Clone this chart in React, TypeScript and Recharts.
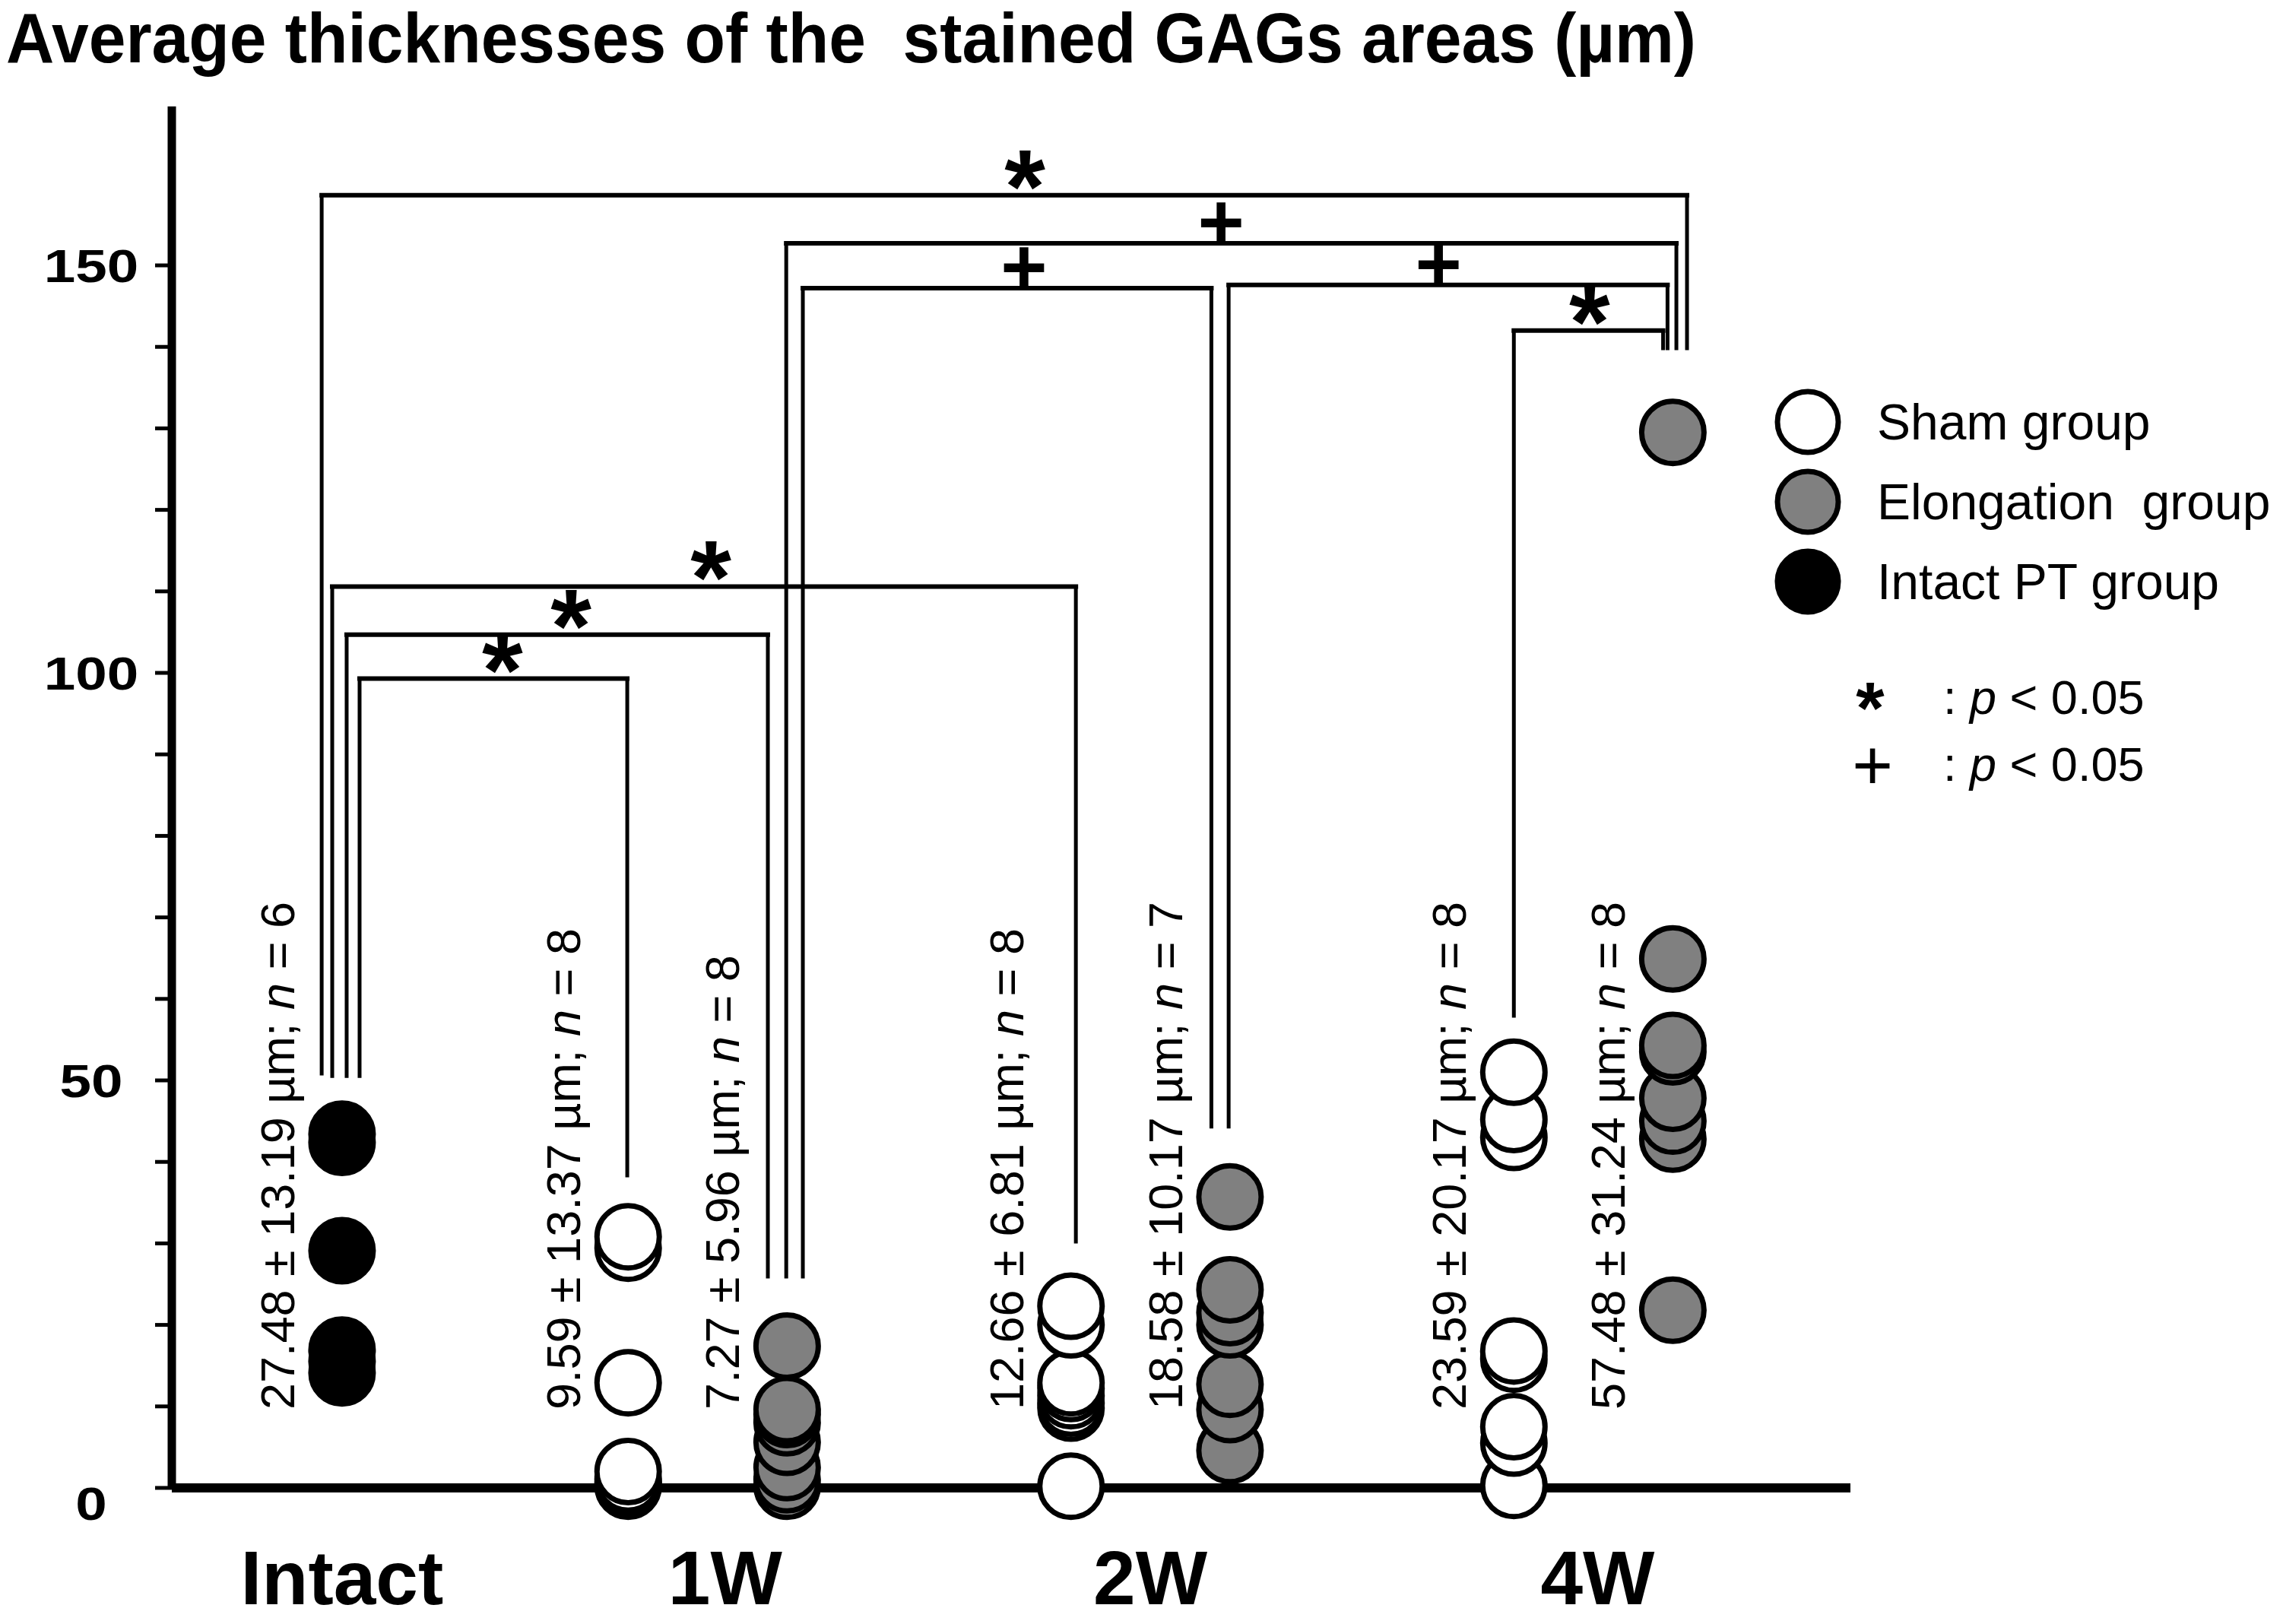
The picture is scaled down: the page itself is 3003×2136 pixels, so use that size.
import { ScatterChart, Scatter, XAxis, YAxis, ReferenceLine, ReferenceDot } from "recharts";

const FONT = '"Liberation Sans", Arial, Helvetica, sans-serif';

// x positions: Intact sits a bit closer to 1W than the weeks sit to each other
const groupNames = ["Intact", "1W", "2W", "4W"];
const groupTicks = [0.175, 1.04, 2.0, 3.01];
const intactX = 0.175;
const weekX = [1, 2, 3];
const shamShift = -0.179;
const elongShift = 0.18;

// individual thicknesses (µm)
const intactValues = [14.1, 15.5, 16.9, 29.1, 42.4, 43.4];
const sham1W = [0.2, 0.4, 0.7, 1.1, 2.0, 12.9, 29.4, 30.8];
const sham2W = [0.2, 9.8, 10.4, 11.3, 12.2, 12.9, 20.0, 22.3];
const sham4W = [0.3, 5.5, 7.5, 15.8, 16.8, 43.0, 45.2, 51.0];
const elong1W = [0.2, 1.0, 2.5, 5.6, 8.0, 9.0, 9.6, 17.4];
const elong2W = [4.6, 9.6, 12.7, 20.0, 21.5, 24.3, 35.7];
const elong4W = [21.8, 42.8, 45.0, 47.8, 53.5, 54.3, 64.9, 129.5];

// mean ± SD text written beside each column
const statMeans = ["27.48", "9.59", "7.27", "12.66", "18.58", "23.59", "57.48"];
const statSDs = ["13.19", "13.37", "5.96", "6.81", "10.17", "20.17", "31.24"];
const statNs = ["6", "8", "8", "8", "7", "8", "8"];
const statX = [
  intactX,
  1 + shamShift,
  1 + elongShift,
  2 + shamShift,
  2 + elongShift,
  3 + shamShift,
  3 + elongShift,
];
const statY = 9.6;

// significance brackets: legs at x1/x2 drop to b1/b2, top at y, mark at mx
const brackets = [
  { x1: 0.129, x2: 3.212, y: 158.6, b1: 50.6, b2: 139.6, mark: "*", mx: 1.717 },
  { x1: 1.178, x2: 3.188, y: 152.7, b1: 25.7, b2: 139.6, mark: "+", mx: 2.16 },
  { x1: 1.2155, x2: 2.138, y: 147.2, b1: 25.7, b2: 44.1, mark: "+", mx: 1.715 },
  { x1: 2.177, x2: 3.168, y: 147.6, b1: 44.1, b2: 139.6, mark: "+", mx: 2.651 },
  { x1: 2.821, x2: 3.158, y: 142.0, b1: 57.7, b2: 139.6, mark: "*", mx: 2.992 },
  { x1: 0.1528, x2: 1.832, y: 110.6, b1: 50.3, b2: 30.0, mark: "*", mx: 1.008 },
  { x1: 0.1854, x2: 1.1365, y: 104.7, b1: 50.3, b2: 25.7, mark: "*", mx: 0.692 },
  { x1: 0.2146, x2: 0.819, y: 99.3, b1: 50.3, b2: 38.1, mark: "*", mx: 0.537 },
];

const yTicks = [0, 10, 20, 30, 40, 50, 60, 70, 80, 90, 100, 110, 120, 130, 140, 150];

const byY = (a: { y: number }, b: { y: number }) => a.y - b.y;

const intactData = intactValues.map((v) => ({ x: intactX, y: v })).sort(byY);
const shamData = [sham1W, sham2W, sham4W]
  .flatMap((vals, i) => vals.map((v) => ({ x: weekX[i] + shamShift, y: v })))
  .sort(byY);
const elongData = [elong1W, elong2W, elong4W]
  .flatMap((vals, i) => vals.map((v) => ({ x: weekX[i] + elongShift, y: v })))
  .sort(byY);

const dot = (fill: string) => (p: any) => (
  <circle cx={p.cx} cy={p.cy} r={41} fill={fill} stroke="#000" strokeWidth={7} />
);

const YTick = (p: any) => {
  const v = p.payload.value;
  if (v % 50 !== 0) return <g />;
  const s = String(v);
  return (
    <text
      x={120}
      y={p.y + (v === 0 ? 20 : 0)}
      dy={22}
      textAnchor="middle"
      fontFamily={FONT}
      fontWeight="bold"
      fontSize={62}
      textLength={41.5 * s.length}
      lengthAdjust="spacingAndGlyphs"
      fill="#000"
    >
      {s}
    </text>
  );
};

const XTick = (p: any) => {
  const i = groupTicks.indexOf(p.payload.value);
  return (
    <text
      x={p.x}
      y={p.y + 153}
      textAnchor="middle"
      fontFamily={FONT}
      fontWeight="bold"
      fontSize={100}
      fill="#000"
    >
      {groupNames[i]}
    </text>
  );
};

const statLabel = (i: number) => (p: any) => {
  const x = p.cx - 63;
  return (
    <text
      x={x}
      y={p.cy}
      transform={`rotate(-90 ${x} ${p.cy})`}
      fontFamily={FONT}
      fontSize={63}
      fill="#000"
      style={{ whiteSpace: "pre" }}
    >
      {`${statMeans[i]} ± ${statSDs[i]} µm; `}
      <tspan fontStyle="italic">n</tspan>
      {` = ${statNs[i]}`}
    </text>
  );
};

const markShape = (mark: string) => (p: any) =>
  mark === "*" ? (
    <text x={p.cx} y={p.cy + 36} textAnchor="middle" fontFamily={FONT} fontWeight="bold" fontSize={138} fill="#000">
      *
    </text>
  ) : (
    <text x={p.cx} y={p.cy + 8} textAnchor="middle" fontFamily={FONT} fontWeight="bold" fontSize={105} fill="#000">
      +
    </text>
  );

const legendItems = [
  { label: "Sham group", fill: "#ffffff" },
  { label: "Elongation  group", fill: "#808080" },
  { label: "Intact PT group", fill: "#000000" },
];

export default function App() {
  return (
    <div style={{ position: "absolute", left: 0, top: 0, width: 3003, height: 2136, background: "#fff" }}>
      <ScatterChart width={3003} height={2136} margin={{ top: 140, right: 569, bottom: 0, left: 0 }}>
        <XAxis
          type="number"
          dataKey="x"
          domain={[-0.2094, 3.581]}
          ticks={groupTicks}
          interval={0}
          tick={XTick}
          tickLine={false}
          tickSize={0}
          tickMargin={0}
          axisLine={{ stroke: "#000", strokeWidth: 12 }}
          height={179}
        />
        <YAxis
          type="number"
          dataKey="y"
          domain={[0, 169.5]}
          ticks={yTicks}
          interval={0}
          tick={YTick}
          tickSize={22}
          tickLine={{ stroke: "#000", strokeWidth: 5 }}
          axisLine={{ stroke: "#000", strokeWidth: 11 }}
          width={226}
        />
        {brackets.map((b, i) => (
          <ReferenceLine
            key={`l${i}`}
            segment={[{ x: b.x1, y: b.b1 }, { x: b.x1, y: b.y }]}
            stroke="#000"
            strokeWidth={5}
          />
        ))}
        {brackets.map((b, i) => (
          <ReferenceLine
            key={`r${i}`}
            segment={[{ x: b.x2, y: b.b2 }, { x: b.x2, y: b.y }]}
            stroke="#000"
            strokeWidth={5}
          />
        ))}
        {brackets.map((b, i) => (
          <ReferenceLine
            key={`t${i}`}
            segment={[{ x: b.x1, y: b.y }, { x: b.x2, y: b.y }]}
            stroke="#000"
            strokeWidth={6}
            strokeLinecap="square"
          />
        ))}
        {brackets.map((b, i) => (
          <ReferenceDot key={`m${i}`} x={b.mx} y={b.y} r={1} shape={markShape(b.mark)} />
        ))}
        {statX.map((x, i) => (
          <ReferenceDot key={`s${i}`} x={x} y={statY} r={1} shape={statLabel(i)} />
        ))}
        <Scatter data={intactData} fill="#000" shape={dot("#000000")} isAnimationActive={false} />
        <Scatter data={shamData} fill="#fff" shape={dot("#ffffff")} isAnimationActive={false} />
        <Scatter data={elongData} fill="#808080" shape={dot("#808080")} isAnimationActive={false} />
      </ScatterChart>
      <svg
        width={3003}
        height={2136}
        style={{ position: "absolute", left: 0, top: 0, pointerEvents: "none" }}
      >
        <text
          x={8}
          y={82}
          fontFamily={FONT}
          fontWeight="bold"
          fontSize={92}
          textLength={2223}
          lengthAdjust="spacingAndGlyphs"
          style={{ whiteSpace: "pre" }}
          fill="#000"
        >
          Average thicknesses of the  stained GAGs areas (µm)
        </text>
        {legendItems.map((it, i) => (
          <g key={it.label}>
            <circle cx={2378} cy={555 + i * 105} r={40} fill={it.fill} stroke="#000" strokeWidth={7} />
            <text
              x={2469}
              y={555 + i * 105 + 23}
              fontFamily={FONT}
              fontSize={66}
              fill="#000"
              style={{ whiteSpace: "pre" }}
            >
              {it.label}
            </text>
          </g>
        ))}
        <text x={2460} y={964} textAnchor="middle" fontFamily={FONT} fontWeight="bold" fontSize={96} fill="#000">
          *
        </text>
        <text x={2463} y={1038} textAnchor="middle" fontFamily={FONT} fontSize={92} fill="#000">
          +
        </text>
        {[939, 1027].map((y) => (
          <text key={y} x={2556} y={y} fontFamily={FONT} fontSize={63} fill="#000" style={{ whiteSpace: "pre" }}>
            {": "}
            <tspan fontStyle="italic">p</tspan>
            {" < 0.05"}
          </text>
        ))}
      </svg>
    </div>
  );
}
